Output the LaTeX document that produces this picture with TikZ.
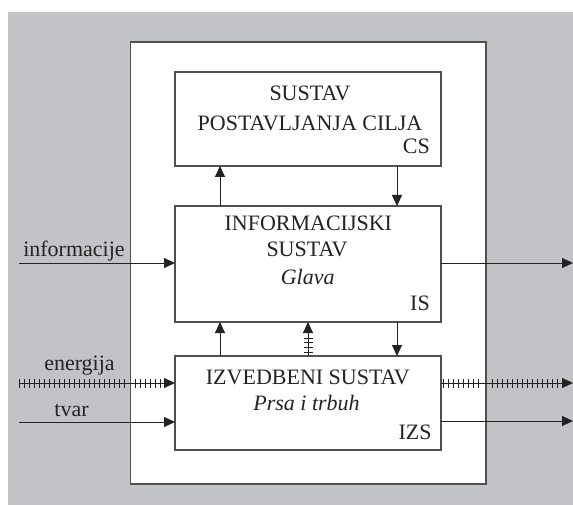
\documentclass[tikz,border=0pt]{standalone}
\usepackage{fontspec}
\setmainfont{Liberation Serif}
\usetikzlibrary{arrows.meta,decorations.markings}
\definecolor{bggray}{RGB}{194,195,199}
\definecolor{ink}{RGB}{35,35,35}
\definecolor{edge}{RGB}{80,80,80}
% one short cross stroke of a hatched (energy) line
\newcommand{\hatchtick}{\draw[ink,line width=0.8pt,-] (0,-4.5pt) -- (0,4.5pt);}
\begin{document}
\begin{tikzpicture}[x=1pt,y=-1pt,
  font=\fontsize{22}{26}\selectfont,
  line/.style={draw=ink,line width=0.9pt},
  arr/.style={line,-{Triangle[length=11pt,width=10pt]}},
  box/.style={rectangle,draw=edge,line width=1.1pt,fill=white,
    minimum width=266pt,inner sep=0pt,outer sep=0pt},
  frame/.style={rectangle,draw=edge,line width=1.6pt,fill=white,
    inner sep=0pt,outer sep=0pt},
  txt/.style={anchor=base,inner sep=0pt,text=ink},
  tag/.style={anchor=base east,inner sep=0pt,text=ink}
]
\useasboundingbox (0,0) rectangle (573,505);
\fill[white] (0,0) rectangle (573,505);
\fill[bggray] (8,12) rectangle (573,505);

% the whole system
\node[frame,minimum width=355.5pt,minimum height=442pt] (frame) at (308.25,263) {};

% subsystems
\node[box,minimum height=94pt]  (cs)  at (308,119) {};
\node[box,minimum height=116pt] (is)  at (308,264) {};
\node[box,minimum height=94pt]  (izs) at (308,403) {};

% goal-setting subsystem
\node[txt] (csA) at (310,100.3) {SUSTAV};
\node[txt] (csB) at (310,130.3) {POSTAVLJANJA CILJA};
\node[tag] (csL) at (430,154) {CS};

% information subsystem
\node[txt] (isA) at (308.3,230.6) {INFORMACIJSKI};
\node[txt] (isB) at (307,256.3) {SUSTAV};
\node[txt] (isC) at (307.7,284) {\textit{Glava}};
\node[tag] (isL) at (430,310.3) {IS};

% executive subsystem
\node[txt] (izsA) at (307.8,384) {IZVEDBENI SUSTAV};
\node[txt] (izsB) at (306.5,410) {\textit{Prsa i trbuh}};
\node[tag] (izsL) at (431.7,439) {IZS};

% input labels
\node[txt] (lInfo) at (74,257) {informacije};
\node[txt] (lEn)   at (79.5,370.7) {energija};
\node[txt] (lTv)   at (71.5,416) {tvar};

% free ends of the inputs and outputs
\coordinate (infoIn)  at (19,263);
\coordinate (enIn)    at (19,383);
\coordinate (tvIn)    at (19,422);
\coordinate (infoOut) at (573,263);
\coordinate (enOut)   at (573,383);
\coordinate (tvOut)   at (573,421);

% columns of the vertical links
\coordinate (lx) at (220,0);
\coordinate (mx) at (308,0);
\coordinate (rx) at (397,0);

% inputs
\draw[arr] (infoIn) -- (infoIn -| is.west);
\draw[arr,postaction={decorate},decoration={markings,
    mark=between positions 0pt and 106pt step 5pt with {\hatchtick},
    mark=between positions 116pt and 141pt step 5pt with {\hatchtick}}]
  (enIn) -- (enIn -| izs.west);
\draw[arr] (tvIn) -- (tvIn -| izs.west);

% outputs
\draw[arr] (is.east |- infoOut) -- (infoOut);
\draw[arr,postaction={decorate},decoration={markings,
    mark=between positions 2pt and 39pt step 5pt with {\hatchtick},
    mark=between positions 51pt and 118pt step 5pt with {\hatchtick}}]
  (izs.east |- enOut) -- (enOut);
\draw[arr] (izs.east |- tvOut) -- (tvOut);

% links between the subsystems
\draw[arr] (lx |- is.north) -- (lx |- cs.south);
\draw[arr] (rx |- cs.south) -- (rx |- is.north);
\draw[arr] (lx |- izs.north) -- (lx |- is.south);
\draw[arr] (rx |- is.south) -- (rx |- izs.north);
\draw[arr,postaction={decorate},decoration={markings,
    mark=between positions 4pt and 18.1pt step 4.7pt with {\hatchtick}}]
  (mx |- izs.north) -- (mx |- is.south);
\end{tikzpicture}
\end{document}
